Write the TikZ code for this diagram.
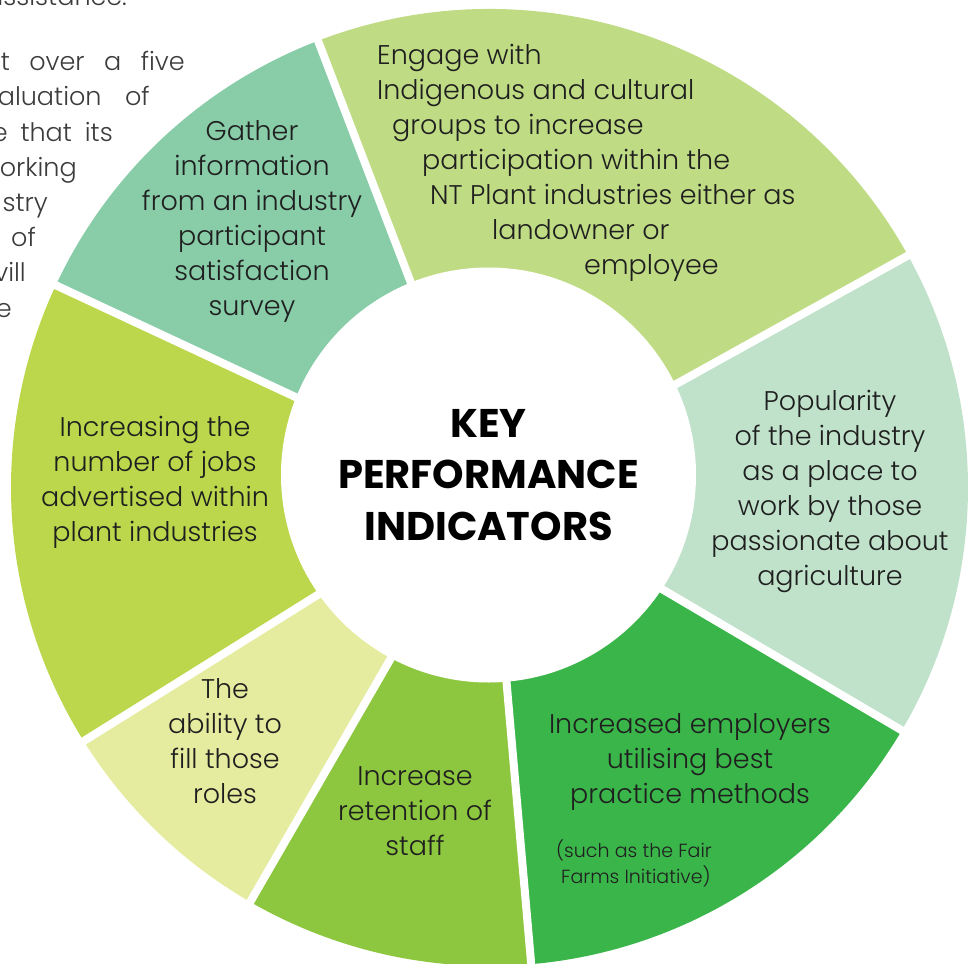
\documentclass[tikz,border=0pt]{standalone}
\usepackage{fontspec}
\IfFontExistsTF{Poppins Light}{%
	\newfontfamily\bodyfont{Poppins Light}%
}{%
	\newfontfamily\bodyfont{Lato}%
}
\newfontfamily\titlefont{Poppins}

\definecolor{kpiEngage}{HTML}{BFDC84}
\definecolor{kpiGather}{HTML}{88CCA8}
\definecolor{kpiPopular}{HTML}{C0E2CA}
\definecolor{kpiEmploy}{HTML}{3AB54A}
\definecolor{kpiRetain}{HTML}{8DC63F}
\definecolor{kpiAbility}{HTML}{E6EC9F}
\definecolor{kpiJobs}{HTML}{BCD74B}
\definecolor{kpiInk}{HTML}{1F1F1F}
\definecolor{sideInk}{HTML}{3C3C3C}

\begin{document}
\begin{tikzpicture}[x=1pt, y=1pt,
	segtext/.style={font=\bodyfont\fontsize{27}{35}\selectfont, text=kpiInk, align=center, inner sep=0pt},
	sidetext/.style={font=\bodyfont\fontsize{25.5}{35}\selectfont, text=sideInk, anchor=base east, inner sep=0pt}]
	\useasboundingbox (0,0) rectangle (976,-963);
	\clip (0,0) rectangle (976,-963);
	\coordinate (o) at (489.5,-487.5);

	% \drawsector#from#to#colour
	\def\drawsector#1#2#3{
		\fill[#3] (o) -- ++(#1:478.5) arc[start angle=#1, end angle=#2, radius=478.5] -- cycle;
	}

	% paragraph behind, cut by the page edge
	\node[sidetext] (side0) at (127,-6) {assistance.};
	\node[sidetext] (side1) at (185,-71) {\makebox[184pt][s]{t over a five}};
	\node[sidetext] (side2) at (150,-106) {\makebox[152pt][s]{aluation of}};
	\node[sidetext] (side3) at (113,-141) {\makebox[121pt][s]{e that its}};
	\node[sidetext] (side4) at (77,-176) {orking};
	\node[sidetext] (side5) at (48,-211) {stry};
	\node[sidetext] (side6) at (36,-246) {of};
	\node[sidetext] (side7) at (26,-281) {vill};
	\node[sidetext] (side8) at (12,-317) {e};

	% ring
	\foreach \s/\e/\c in {29/111/kpiEngage, 111/155/kpiGather, 155/212/kpiJobs, 212/240/kpiAbility,
		240/275/kpiRetain, 275/329.5/kpiEmploy, 329.5/389/kpiPopular} {
		\drawsector{\s}{\e}{\c}
	}
	\foreach \a in {111, 29, -30.5, -85, -120, -148, 155} {
		\draw[white, line width=8] (o) -- ++(\a:500);
	}
	\node[circle, fill=white, minimum size=415, inner sep=0, align=center,
		font=\titlefont\bfseries\fontsize{40}{51.5}\selectfont] (kpi) at (488.5,-475) {KEY\\PERFORMANCE\\INDICATORS};

	% labels
	\node[segtext] (gather) at (252,-221) {Gather\\information\\from an industry\\participant\\satisfaction\\survey};
	\node[segtext, align=left, anchor=west] (engage) at (377,-163) {Engage with\\Indigenous and cultural\\\hspace*{15pt}groups to increase\\\hspace*{45pt}participation within the\\\hspace*{53pt}NT Plant industries either as\\\hspace*{115pt}landowner or\\\hspace*{207pt}employee};
	\node[segtext] (popular) at (830,-491) {Popularity\\of the industry\\as a place to\\work by those\\passionate about\\agriculture};
	\node[segtext] (jobs) at (155,-482) {Increasing the\\number of jobs\\advertised within\\plant industries};
	\node[segtext] (ability) at (225,-741) {The\\ability to\\fill those\\roles};
	\node[segtext] (retain) at (415,-811) {Increase\\retention of\\staff};
	\node[segtext] (employ) at (690,-762) {Increased employers\\utilising best\\practice methods};
	\node[segtext, align=left, anchor=west, font=\bodyfont\fontsize{19}{26}\selectfont] (fairfarms) at (556,-863) {(such as the Fair\\\hspace*{5pt}Farms Initiative)};
\end{tikzpicture}
\end{document}
